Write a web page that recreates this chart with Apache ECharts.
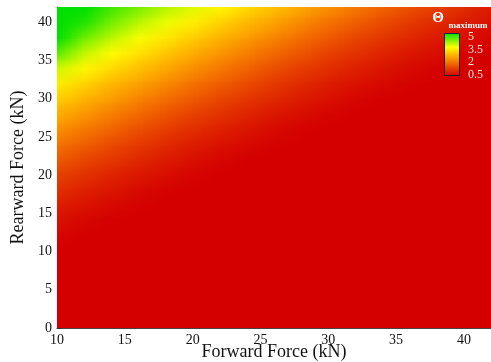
<!DOCTYPE html>
<html>
<head>
<meta charset="utf-8">
<script src="https://cdn.jsdelivr.net/npm/echarts@6/dist/echarts.min.js"></script>
<style>
  html, body { margin: 0; padding: 0; background: #fff; }
  #chart { width: 491px; height: 362px; }
</style>
</head>
<body>
<div id="chart"></div>
<script>
// Sampled grid of the maximum rotation Θ over forward / rearward load (kN)
const forwardForce = [10, 12, 14, 16, 18, 20, 22, 24, 26, 28, 30, 32, 34, 36, 38, 40, 42];
const rearwardForce = [0, 2, 4, 6, 8, 10, 12, 14, 16, 18, 20, 22, 24, 26, 28, 30, 32, 34, 36, 38, 40, 42];

// One row per rearward force (bottom to top), one column per forward force
const thetaMax = [
  [0.15, 0.12, 0.10, 0.10, 0.10, 0.10, 0.10, 0.10, 0.10, 0.10, 0.10, 0.10, 0.10, 0.10, 0.10, 0.10, 0.10],
  [0.20, 0.15, 0.12, 0.10, 0.10, 0.10, 0.10, 0.10, 0.10, 0.10, 0.10, 0.10, 0.10, 0.10, 0.10, 0.10, 0.10],
  [0.26, 0.21, 0.17, 0.13, 0.11, 0.10, 0.10, 0.10, 0.10, 0.10, 0.10, 0.10, 0.10, 0.10, 0.10, 0.10, 0.10],
  [0.32, 0.27, 0.22, 0.18, 0.14, 0.12, 0.10, 0.10, 0.10, 0.10, 0.10, 0.10, 0.10, 0.10, 0.10, 0.10, 0.10],
  [0.38, 0.33, 0.28, 0.24, 0.19, 0.15, 0.12, 0.10, 0.10, 0.10, 0.10, 0.10, 0.10, 0.10, 0.10, 0.10, 0.10],
  [0.47, 0.40, 0.34, 0.29, 0.25, 0.20, 0.15, 0.12, 0.10, 0.10, 0.10, 0.10, 0.10, 0.10, 0.10, 0.10, 0.10],
  [0.55, 0.48, 0.42, 0.36, 0.31, 0.26, 0.21, 0.17, 0.13, 0.11, 0.10, 0.10, 0.10, 0.10, 0.10, 0.10, 0.10],
  [0.70, 0.58, 0.50, 0.43, 0.37, 0.32, 0.27, 0.22, 0.18, 0.14, 0.12, 0.10, 0.10, 0.10, 0.10, 0.10, 0.10],
  [0.85, 0.73, 0.61, 0.52, 0.45, 0.38, 0.33, 0.28, 0.24, 0.19, 0.15, 0.12, 0.10, 0.10, 0.10, 0.10, 0.10],
  [1.08, 0.90, 0.76, 0.64, 0.53, 0.47, 0.40, 0.34, 0.29, 0.25, 0.20, 0.15, 0.12, 0.10, 0.10, 0.10, 0.10],
  [1.30, 1.12, 0.94, 0.79, 0.67, 0.55, 0.48, 0.42, 0.36, 0.31, 0.26, 0.21, 0.17, 0.13, 0.11, 0.10, 0.10],
  [1.60, 1.36, 1.17, 0.99, 0.82, 0.70, 0.58, 0.50, 0.43, 0.37, 0.32, 0.27, 0.22, 0.18, 0.14, 0.12, 0.10],
  [1.90, 1.66, 1.42, 1.21, 1.03, 0.85, 0.73, 0.61, 0.52, 0.45, 0.38, 0.33, 0.28, 0.24, 0.19, 0.15, 0.12],
  [2.26, 1.97, 1.72, 1.48, 1.26, 1.08, 0.90, 0.76, 0.64, 0.53, 0.47, 0.40, 0.34, 0.29, 0.25, 0.20, 0.15],
  [2.61, 2.33, 2.04, 1.78, 1.54, 1.30, 1.12, 0.94, 0.79, 0.67, 0.55, 0.48, 0.42, 0.36, 0.31, 0.26, 0.21],
  [2.97, 2.68, 2.40, 2.11, 1.84, 1.60, 1.36, 1.17, 0.99, 0.82, 0.70, 0.58, 0.50, 0.43, 0.37, 0.32, 0.27],
  [3.32, 3.04, 2.75, 2.47, 2.18, 1.90, 1.66, 1.42, 1.21, 1.03, 0.85, 0.73, 0.61, 0.52, 0.45, 0.38, 0.33],
  [3.80, 3.40, 3.11, 2.83, 2.54, 2.26, 1.97, 1.72, 1.48, 1.26, 1.08, 0.90, 0.76, 0.64, 0.53, 0.47, 0.40],
  [4.44, 3.85, 3.47, 3.18, 2.90, 2.61, 2.33, 2.04, 1.78, 1.54, 1.30, 1.12, 0.94, 0.79, 0.67, 0.55, 0.48],
  [5.20, 4.34, 3.89, 3.55, 3.25, 2.97, 2.68, 2.40, 2.11, 1.84, 1.60, 1.36, 1.17, 0.99, 0.82, 0.70, 0.58],
  [5.90, 4.81, 4.30, 3.92, 3.61, 3.32, 3.04, 2.75, 2.47, 2.18, 1.90, 1.66, 1.42, 1.21, 1.03, 0.85, 0.70],
  [6.60, 5.25, 4.63, 4.28, 3.94, 3.68, 3.40, 3.11, 2.83, 2.54, 2.26, 1.97, 1.72, 1.48, 1.26, 1.05, 0.84]
];

// Colour legend
const legendLabels = ['5', '3.5', '2', '0.5'];
const legendMin = 0.5;
const legendMax = 5;
const paletteStops = ['#d40000', '#e63c00', '#f77a00', '#ffb800', '#ffff00', '#80f000', '#00e000'];

const SERIF = '"Liberation Serif", "Times New Roman", serif';

const seriesData = [];
rearwardForce.forEach((r, j) => {
  forwardForce.forEach((f, i) => {
    seriesData.push([f, r, thetaMax[j][i]]);
  });
});

const nx = forwardForce.length;
const ny = rearwardForce.length;
const stepX = forwardForce[1] - forwardForce[0];
const stepY = rearwardForce[1] - rearwardForce[0];

// Flood fill: every grid node becomes one texel, the texture is stretched
// over the node cells so the browser blends neighbouring colours smoothly.
function renderFlood(params, api) {
  if (params.dataIndexInside !== 0) return null;
  const tex = document.createElement('canvas');
  tex.width = nx;
  tex.height = ny;
  const ctx = tex.getContext('2d');
  for (let k = 0; k < nx * ny; k++) {
    const i = k % nx;
    const j = Math.floor(k / nx);
    ctx.fillStyle = api.visual('color', k);
    ctx.fillRect(i, ny - 1 - j, 1, 1);
  }
  const p0 = api.coord([forwardForce[0] - stepX / 2, rearwardForce[ny - 1] + stepY / 2]);
  const p1 = api.coord([forwardForce[nx - 1] + stepX / 2, rearwardForce[0] - stepY / 2]);
  return {
    type: 'image',
    style: { image: tex, x: p0[0], y: p0[1], width: p1[0] - p0[0], height: p1[1] - p0[1] },
    silent: true
  };
}

const axisText = { fontFamily: SERIF, fontSize: 14, color: '#111' };

const chart = echarts.init(document.getElementById('chart'), null, { renderer: 'canvas' });
chart.setOption({
  animation: false,
  backgroundColor: '#fff',
  grid: { left: 57, top: 7, right: 0, bottom: 34, outerBoundsMode: 'none', containLabel: false },
  xAxis: [{
    type: 'value', min: 10, max: 42, interval: 5,
    name: 'Forward Force (kN)', nameLocation: 'middle', nameGap: 15, nameMoveOverlap: false,
    nameTextStyle: { fontFamily: SERIF, fontSize: 18, color: '#111' },
    axisLine: { show: true, lineStyle: { color: '#444', width: 1 } },
    axisTick: { show: true, inside: true, length: 5, lineStyle: { color: '#333' } },
    minorTick: { show: true, splitNumber: 5, length: 3, lineStyle: { color: '#333' } },
    splitLine: { show: false },
    axisLabel: Object.assign({ margin: 5, showMaxLabel: false }, axisText)
  }, {
    type: 'value', min: 10, max: 42, position: 'top',
    axisLine: { show: true, onZero: false, lineStyle: { color: '#666', width: 1 } },
    axisTick: { show: false }, axisLabel: { show: false }, splitLine: { show: false }
  }],
  yAxis: {
    type: 'value', min: 0, max: 42, interval: 5,
    name: 'Rearward Force (kN)', nameLocation: 'middle', nameGap: 30, nameMoveOverlap: false,
    nameTextStyle: { fontFamily: SERIF, fontSize: 18, color: '#111' },
    axisLine: { show: true, lineStyle: { color: '#444', width: 1 } },
    axisTick: { show: true, inside: true, length: 5, lineStyle: { color: '#333' } },
    minorTick: { show: true, splitNumber: 5, length: 3, lineStyle: { color: '#333' } },
    splitLine: { show: false },
    axisLabel: Object.assign({ margin: 5, showMaxLabel: false }, axisText)
  },
  visualMap: {
    type: 'continuous', min: legendMin, max: legendMax, dimension: 2,
    calculable: false, hoverLink: false, orient: 'vertical',
    left: 444, top: 33, itemWidth: 16, itemHeight: 43, padding: 0,
    inRange: { color: paletteStops }
  },
  series: [{
    type: 'custom',
    coordinateSystem: 'cartesian2d',
    clip: true,
    encode: { x: 0, y: 1 },
    data: seriesData,
    renderItem: renderFlood,
    z: 1
  }],
  graphic: [
    { type: 'rect', z: 100, shape: { x: 444.5, y: 33.5, width: 15, height: 42 },
      style: { fill: 'none', stroke: '#222', lineWidth: 1 } },
    { type: 'text', z: 100, x: 438, y: 18,
      style: { text: 'Θ', fill: '#fff', font: 'bold 15px ' + SERIF, align: 'center', verticalAlign: 'middle' } },
    { type: 'text', z: 100, x: 468, y: 26,
      style: { text: 'maximum', fill: '#fff', font: 'bold 9px ' + SERIF, align: 'center', verticalAlign: 'middle' } }
  ].concat(legendLabels.map((t, k) => ({
    type: 'text', z: 100, x: 468, y: [37, 50, 62, 75][k],
    style: { text: t, fill: '#f6dede', font: '12px ' + SERIF, align: 'left', verticalAlign: 'middle' }
  })))
});
</script>
</body>
</html>
